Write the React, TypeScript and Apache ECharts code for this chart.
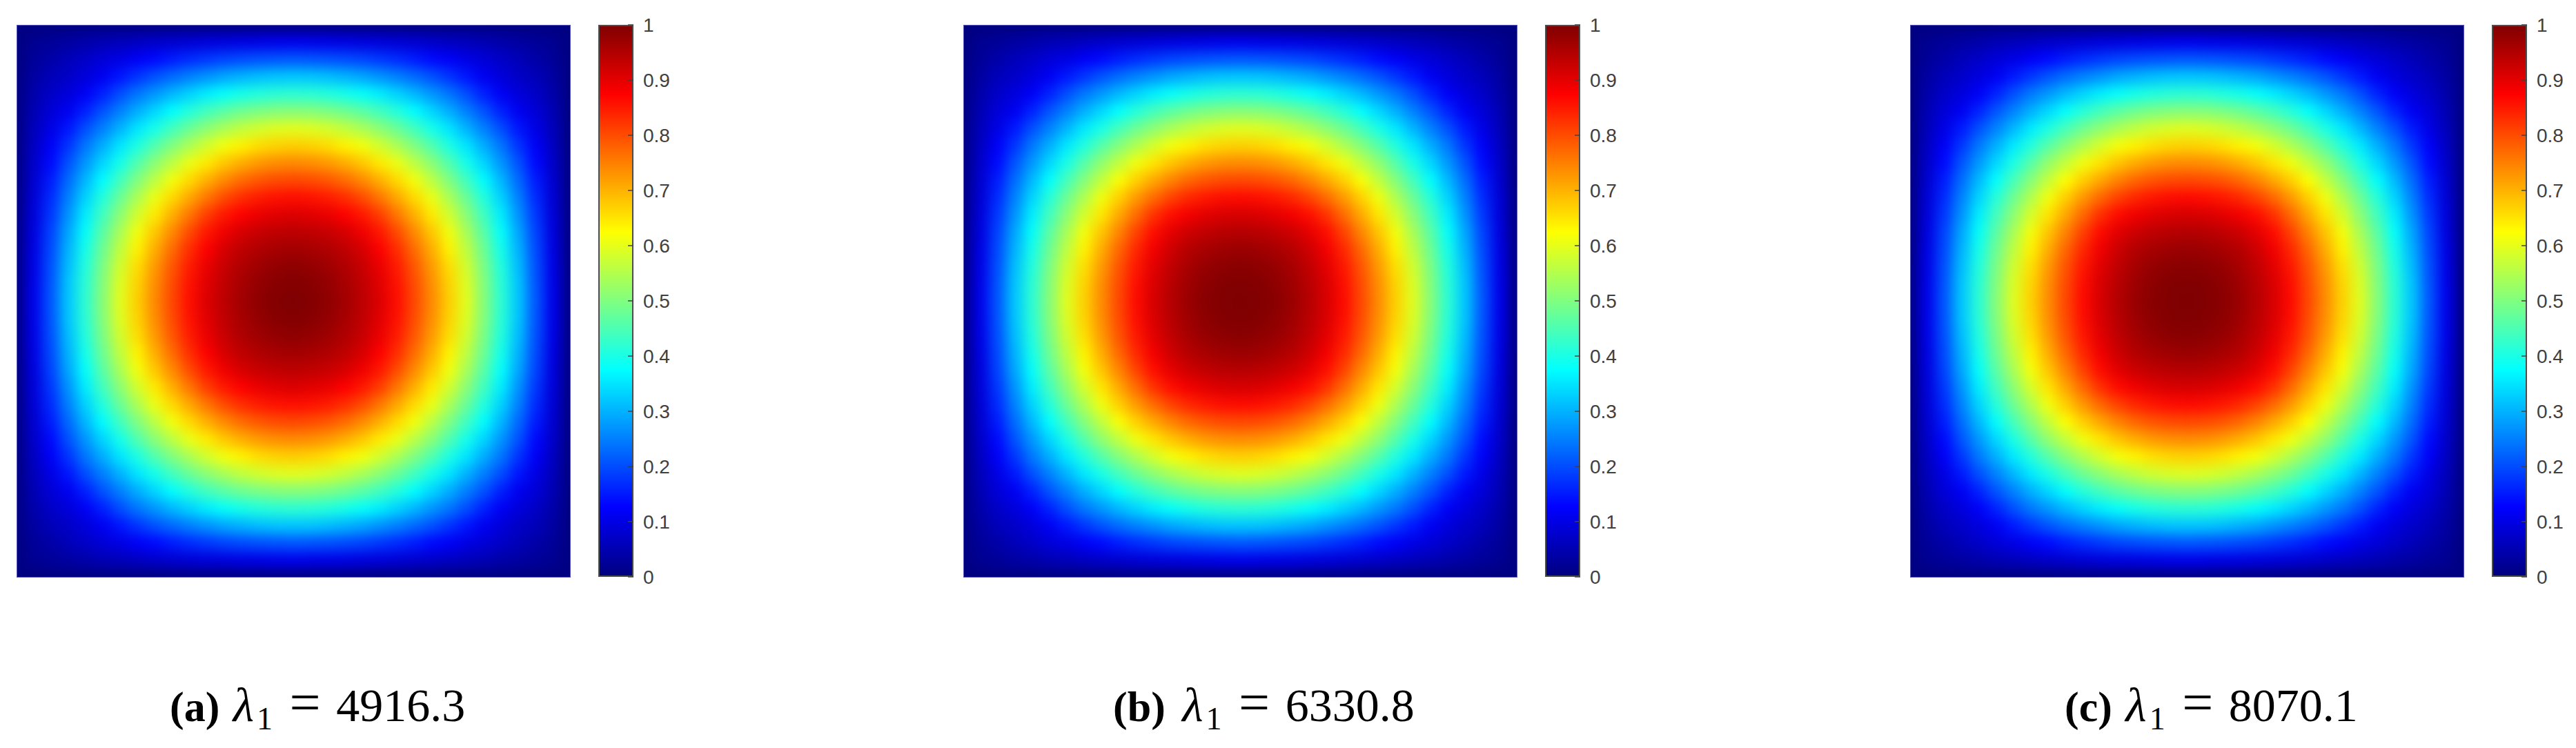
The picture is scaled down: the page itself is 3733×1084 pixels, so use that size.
import React, { useEffect, useRef } from "react";
import * as echarts from "echarts";

// Jet colour map, evenly spaced from 0 to 1
const jetStops = ["#000080", "#0000ff", "#0080ff", "#00ffff", "#80ff80", "#ffff00", "#ff8000", "#ff0000", "#800000"];
const colorbarRange = [0, 1];
const captionsTags = ["(a)", "(b)", "(c)"];
const captionValues = ["4916.3", "6330.8", "8070.1"];

// Field: row = cells from centre (larger of |dx|,|dy|), column = smaller of them.
const fieldA = [
  [1.000],
  [.996, .992],
  [.985, .980, .969],
  [.966, .962, .953, .938],
  [.940, .937, .929, .914, .889],
  [.908, .904, .895, .876, .853, .815],
  [.862, .858, .849, .831, .802, .759, .711],
  [.805, .801, .790, .770, .740, .703, .661, .613],
  [.740, .736, .724, .705, .679, .645, .605, .558, .510],
  [.672, .668, .657, .637, .613, .581, .542, .500, .454, .402],
  [.597, .593, .581, .563, .540, .511, .478, .438, .395, .350, .300],
  [.508, .505, .496, .482, .463, .438, .408, .374, .335, .295, .250, .205],
  [.418, .415, .407, .395, .379, .358, .332, .304, .272, .240, .200, .155, .115],
  [.320, .318, .311, .300, .287, .269, .250, .228, .204, .175, .145, .110, .090, .070],
  [.210, .207, .203, .197, .189, .178, .165, .150, .132, .117, .098, .086, .070, .056, .038],
  [.105, .103, .100, .097, .093, .089, .084, .078, .072, .065, .057, .050, .041, .033, .025, .018],
  [0, 0, 0, 0, 0, 0, 0, 0, 0, 0, 0, 0, 0, 0, 0, 0, 0],
];
const fieldB = [
  [1.000],
  [.998, .996],
  [.990, .986, .977],
  [.973, .969, .961, .947],
  [.947, .944, .936, .922, .900],
  [.913, .910, .902, .886, .862, .826],
  [.865, .862, .853, .837, .810, .770, .723],
  [.805, .802, .792, .773, .745, .710, .670, .620],
  [.738, .735, .724, .706, .681, .649, .610, .563, .516],
  [.670, .666, .656, .637, .614, .583, .545, .504, .458, .406],
  [.595, .591, .580, .562, .540, .512, .480, .441, .398, .353, .303],
  [.508, .505, .496, .482, .464, .439, .410, .376, .337, .297, .252, .207],
  [.418, .415, .407, .395, .380, .359, .334, .306, .274, .242, .202, .157, .117],
  [.320, .318, .311, .300, .288, .270, .252, .230, .206, .177, .147, .112, .092, .072],
  [.210, .207, .203, .197, .190, .179, .166, .151, .133, .118, .099, .087, .071, .057, .039],
  [.105, .103, .100, .097, .093, .089, .084, .078, .072, .065, .057, .050, .041, .033, .025, .018],
  [0, 0, 0, 0, 0, 0, 0, 0, 0, 0, 0, 0, 0, 0, 0, 0, 0],
];
const fieldC = [
  [1.000],
  [.998, .996],
  [.990, .987, .978],
  [.974, .970, .962, .949],
  [.948, .945, .937, .924, .903],
  [.914, .911, .903, .888, .865, .829],
  [.866, .863, .854, .838, .812, .773, .726],
  [.805, .802, .793, .774, .747, .712, .672, .623],
  [.738, .735, .724, .706, .682, .651, .612, .566, .519],
  [.669, .665, .655, .637, .615, .585, .547, .507, .460, .408],
  [.594, .590, .579, .562, .540, .513, .482, .443, .400, .355, .305],
  [.507, .504, .495, .482, .464, .440, .411, .377, .338, .298, .253, .208],
  [.417, .414, .406, .395, .380, .359, .335, .307, .275, .243, .203, .158, .118],
  [.320, .318, .311, .300, .288, .270, .252, .231, .207, .178, .148, .113, .093, .073],
  [.210, .207, .203, .197, .190, .179, .166, .151, .133, .118, .099, .087, .071, .057, .039],
  [.105, .103, .100, .097, .093, .089, .084, .078, .072, .065, .057, .050, .041, .033, .025, .018],
  [0, 0, 0, 0, 0, 0, 0, 0, 0, 0, 0, 0, 0, 0, 0, 0, 0],
];
const fields = [fieldA, fieldB, fieldC];

const PANEL_LEFT = [24, 1396, 2768];
const BAR_LEFT = [867, 2239, 3611];
const CAPTION_LEFT = [246, 1613, 2992];
const LAMBDA_PAD = [3, 8, 3];
const PANEL_W = 803;
const PANEL_H = 801;
const PANEL_TOP = 36;
const PAD = 20;

function cells(tri: number[][]) {
  const n = tri.length - 1;
  const out: number[][] = [];
  for (let r = -n; r <= n; r++) {
    for (let c = -n; c <= n; c++) {
      const a = Math.abs(r);
      const b = Math.abs(c);
      out.push([c + n, r + n, tri[Math.max(a, b)][Math.min(a, b)]]);
    }
  }
  return out;
}

function HeatField({ tri, left }: { tri: number[][]; left: number }) {
  const ref = useRef<HTMLDivElement>(null);
  const n = tri.length * 2 - 1;
  const cw = PANEL_W / (n - 1);
  const ch = PANEL_H / (n - 1);
  useEffect(() => {
    const chart = echarts.init(ref.current!, undefined, { renderer: "svg" });
    const idx = Array.from({ length: n }, (_, i) => String(i));
    chart.setOption({
      animation: false,
      grid: { left: PAD, top: PAD, width: PANEL_W + cw, height: PANEL_H + ch },
      xAxis: { type: "category", data: idx, show: false },
      yAxis: { type: "category", data: idx, show: false },
      visualMap: { show: false, min: colorbarRange[0], max: colorbarRange[1], inRange: { color: jetStops } },
      series: [{ type: "heatmap", data: cells(tri), progressive: 0, itemStyle: { borderWidth: 0 } }],
    });
    return () => chart.dispose();
  }, []);
  return (
    <div
      style={{
        position: "absolute",
        left,
        top: PANEL_TOP,
        width: PANEL_W,
        height: PANEL_H,
        overflow: "hidden",
        background: jetStops[0],
      }}
    >
      <div
        ref={ref}
        style={{
          position: "absolute",
          left: -(PAD + cw / 2),
          top: -(PAD + ch / 2),
          width: PANEL_W + cw + 2 * PAD,
          height: PANEL_H + ch + 2 * PAD,
          filter: "blur(9px)",
        }}
      />
      <div
        style={{
          position: "absolute",
          left: 0,
          top: 0,
          width: PANEL_W,
          height: PANEL_H,
          boxSizing: "border-box",
          border: "1px solid rgba(125,125,215,0.7)",
        }}
      />
    </div>
  );
}

export default function App() {
  const ref = useRef<HTMLDivElement>(null);
  useEffect(() => {
    const chart = echarts.init(ref.current!, undefined, { renderer: "svg" });
    const grad = new echarts.graphic.LinearGradient(
      0, 1, 0, 0,
      jetStops.map((color, i) => ({ offset: i / (jetStops.length - 1), color }))
    );
    const serif = "Liberation Serif";
    chart.setOption({
      animation: false,
      grid: BAR_LEFT.map((left) => ({ left, top: PANEL_TOP, width: 51, height: 800 })),
      xAxis: BAR_LEFT.map((_, i) => ({ type: "category", gridIndex: i, data: ["c"], show: false })),
      yAxis: BAR_LEFT.map((_, i) => ({
        type: "value",
        gridIndex: i,
        position: "right",
        min: colorbarRange[0],
        max: colorbarRange[1],
        interval: 0.1,
        z: 5,
        splitLine: { show: false },
        axisLine: { show: false },
        axisTick: { show: true, inside: true, length: 8, lineStyle: { color: "#404040", width: 1.5 } },
        axisLabel: { color: "#404040", fontSize: 28, fontFamily: "Liberation Sans", margin: 14 },
      })),
      series: BAR_LEFT.map((_, i) => ({
        type: "bar",
        xAxisIndex: i,
        yAxisIndex: i,
        data: [colorbarRange[1]],
        barWidth: "100%",
        z: 1,
        itemStyle: { color: grad, borderColor: "#4d4d4d", borderWidth: 2 },
      })),
      graphic: CAPTION_LEFT.map((x, i) => ({
        type: "text",
        x,
        y: 978,
        style: {
          text: `{b|${captionsTags[i]}} {l|λ}{s|1} {e|=} {n|${captionValues[i]}}`,
          fill: "#000",
          fontFamily: serif,
          fontSize: 66,
          rich: {
            b: { fontFamily: serif, fontWeight: "bold", fontSize: 62, padding: [0, 0, 13, 0], verticalAlign: "bottom" },
            l: { fontFamily: serif, fontStyle: "italic", fontSize: 70, padding: [0, 0, 11.7, LAMBDA_PAD[i]], verticalAlign: "bottom" },
            s: { fontFamily: serif, fontSize: 46, padding: [0, 0, 3.6, 4], verticalAlign: "bottom" },
            e: { fontFamily: serif, fontSize: 80, padding: [0, 0, 10.1, 8], verticalAlign: "bottom" },
            n: { fontFamily: serif, fontSize: 68, padding: [0, 0, 12, 6], verticalAlign: "bottom" },
          },
        },
      })),
    });
    return () => chart.dispose();
  }, []);
  return (
    <div style={{ position: "absolute", left: 0, top: 0, width: 3733, height: 1084, background: "#fff", overflow: "hidden" }}>
      {fields.map((tri, i) => (
        <HeatField key={i} tri={tri} left={PANEL_LEFT[i]} />
      ))}
      <div ref={ref} style={{ position: "absolute", left: 0, top: 0, width: 3733, height: 1084 }} />
    </div>
  );
}
